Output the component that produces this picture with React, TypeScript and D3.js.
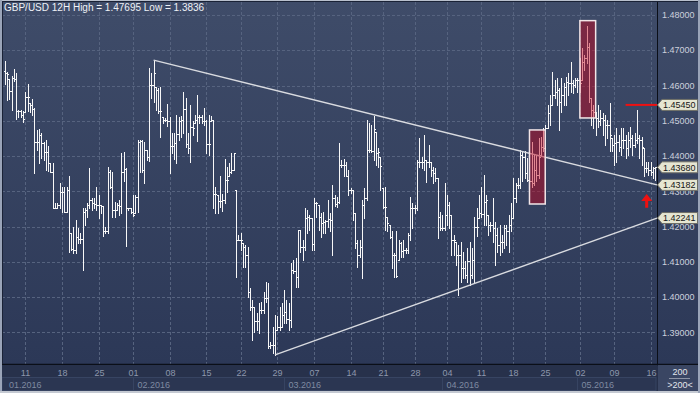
import React from "react";
import * as d3 from "d3";

// ---- data ----
const HIGH: number[] = [
  1.4670,1.4639,1.4619,1.4628,1.4647,1.4635,1.4531,1.4531,1.4529,1.4583,
  1.4604,1.4550,1.4562,1.4535,1.4474,1.4476,1.4465,1.4441,1.4446,1.4429,
  1.4379,1.4379,1.4266,1.4266,1.4323,1.4313,1.4313,1.4313,1.4342,1.4181,
  1.4200,1.4219,1.4195,1.4181,1.4252,1.4252,1.4266,1.4365,1.4280,1.4280,
  1.4311,1.4290,1.4261,1.4257,1.4200,1.4370,1.4361,1.4356,1.4271,1.4266,
  1.4276,1.4408,1.4412,1.4365,1.4252,1.4252,1.4290,1.4290,1.4446,1.4446,
  1.4446,1.4441,1.4417,1.4649,1.4635,1.4672,1.4597,1.4592,1.4597,1.4512,
  1.4507,1.4548,1.4512,1.4465,1.4465,1.4517,1.4512,1.4514,1.4583,1.4564,
  1.4465,1.4545,1.4498,1.4517,1.4573,1.4517,1.4517,1.4535,1.4502,1.4517,
  1.4514,1.4502,1.4313,1.4290,1.4342,
  1.4291,1.4393,1.4370,1.4379,1.4408,1.4410,1.4304,1.4176,1.4181,1.4153,
  1.4148,1.4143,1.4025,1.3992,1.3973,1.3954,1.3982,1.3987,1.4015,1.4044,
  1.4041,1.3872,1.3916,1.3949,1.3945,1.3973,1.3982,1.4020,1.3992,1.3982,
  1.4096,1.4105,1.4110,1.4190,1.4190,1.4162,1.4252,1.4247,1.4233,1.4223,
  1.4282,1.4271,1.4261,1.4238,1.4242,1.4219,1.4275,1.4238,1.4318,1.4290,
  1.4285,1.4438,1.4389,1.4393,1.4384,1.4360,1.4308,1.4304,1.4238,1.4162,
  1.4162,1.4275,1.4308,1.4502,1.4493,1.4488,1.4513,1.4469,1.4422,1.4398,
  1.4308,1.4313,1.4228,1.4205,1.4186,1.4124,1.4186,1.4162,1.4157,1.4162,
  1.4138,1.4181,1.4285,1.4266,1.4261,1.4389,1.4450,1.4398,1.4460,1.4389,
  1.4431,1.4384,1.4370,
  1.4365,1.4337,1.4242,1.4233,1.4323,1.4290,1.4271,1.4233,1.4176,1.4157,
  1.4148,1.4157,1.4129,1.4101,1.4138,1.4157,1.4138,1.4228,1.4252,1.4290,
  1.4313,1.4346,1.4290,1.4233,1.4214,1.4280,1.4214,1.4195,1.4205,1.4176,
  1.4205,1.4205,1.4233,1.4266,1.4337,1.4323,1.4337,1.4417,1.4413,1.4413,
  1.4394,1.4337,1.4441,1.4403,1.4403,1.4450,1.4455,1.4479,1.4488,1.4545,
  1.4573,1.4639,1.4616,1.4620,1.4592,1.4620,1.4606,1.4625,1.4635,1.4668,
  1.4616,1.4620,1.4620,1.4677,1.4706,1.4687,1.47695,1.4720,1.4564,1.4545,
  1.4526,1.4545,1.4531,1.4521,1.4517,1.4502,1.4550,1.4450,1.4460,1.4479,
  1.4460,1.4479,1.4479,1.4460,1.4469,1.4483,1.4460,1.4465,1.4531,1.4460,
  1.4455,1.4422,1.4384,1.4384,1.4384,1.4370,1.4370,
];

const LOW: number[] = [
  1.4603,1.4559,1.4561,1.4531,1.4613,1.4505,1.4510,1.4512,1.4496,1.4526,
  1.4527,1.4526,1.4515,1.4351,1.4417,1.4379,1.4394,1.4389,1.4361,1.4358,
  1.4354,1.4252,1.4252,1.4254,1.4252,1.4240,1.4240,1.4242,1.4127,1.4134,
  1.4124,1.4124,1.4153,1.4153,1.4077,1.4205,1.4228,1.4252,1.4247,1.4252,
  1.4247,1.4224,1.4238,1.4172,1.4181,1.4181,1.4309,1.4228,1.4228,1.4247,
  1.4233,1.4238,1.4328,1.4146,1.4247,1.4238,1.4230,1.4238,1.4242,1.4356,
  1.4354,1.4323,1.4389,1.4386,1.4564,1.4554,1.4531,1.4521,1.4453,1.4493,
  1.4498,1.4485,1.4351,1.4408,1.4391,1.4379,1.4446,1.4455,1.4465,1.4427,
  1.4410,1.4384,1.4460,1.4493,1.4444,1.4493,1.4493,1.4488,1.4408,1.4403,
  1.4498,1.4252,1.4238,1.4238,1.4256,
  1.4244,1.4266,1.4299,1.4342,1.4351,1.4360,1.4058,1.4162,1.4134,1.4086,
  1.4086,1.4001,1.3963,1.3878,1.3902,1.3907,1.3897,1.3954,1.3954,1.3987,
  1.3855,1.3855,1.3841,1.3836,1.3907,1.3907,1.3916,1.3926,1.3926,1.3907,
  1.3916,1.4067,1.4030,1.4030,1.4129,1.4105,1.4134,1.4181,1.4190,1.4134,
  1.4134,1.4228,1.4190,1.4171,1.4181,1.4181,1.4200,1.4186,1.4120,1.4257,
  1.4255,1.4266,1.4370,1.4342,1.4342,1.4290,1.4294,1.4219,1.4138,1.4086,
  1.4115,1.4053,1.4223,1.4275,1.4412,1.4412,1.4389,1.4375,1.4370,1.4304,
  1.4252,1.4190,1.4186,1.4167,1.4082,1.4058,1.4058,1.4105,1.4115,1.4115,
  1.4124,1.4124,1.4162,1.4195,1.4238,1.4247,1.4370,1.4365,1.4360,1.4327,
  1.4370,1.4342,1.4323,
  1.4328,1.4167,1.4190,1.4190,1.4190,1.4205,1.4195,1.4120,1.4120,1.4091,
  1.4006,1.4044,1.4053,1.4053,1.4044,1.4034,1.4053,1.4044,1.4172,1.4224,
  1.4228,1.4205,1.4205,1.4176,1.4186,1.4157,1.4091,1.4129,1.4120,1.4129,
  1.4138,1.4148,1.4129,1.4186,1.4224,1.4271,1.4309,1.4309,1.4328,1.4337,
  1.4328,1.4318,1.4313,1.4318,1.4328,1.4337,1.4403,1.4413,1.4422,1.4479,
  1.4488,1.4545,1.4564,1.4545,1.4474,1.4526,1.4545,1.4545,1.4573,1.4583,
  1.4578,1.4597,1.4583,1.4583,1.4616,1.4644,1.4663,1.4554,1.4488,1.4479,
  1.4460,1.4483,1.4488,1.4460,1.4431,1.4450,1.4413,1.4413,1.4375,1.4384,
  1.4413,1.4403,1.4422,1.4394,1.4403,1.4427,1.4403,1.4427,1.4436,1.4394,
  1.4375,1.4342,1.4356,1.4346,1.4346,1.4337,1.4332,
];

const CLOSE: number[] = [
  1.4635,1.4632,1.4585,1.4620,1.4619,1.4528,1.4528,1.4516,1.4505,1.4568,
  1.4568,1.4545,1.4533,1.4441,1.4439,1.4460,1.4436,1.4411,1.4411,1.4379,
  1.4356,1.4252,1.4254,1.4261,1.4299,1.4299,1.4242,1.4304,1.4181,1.4137,
  1.4134,1.4169,1.4165,1.4165,1.4240,1.4247,1.4261,1.4276,1.4266,1.4263,
  1.4260,1.4262,1.4257,1.4186,1.4186,1.4356,1.4311,1.4247,1.4247,1.4261,
  1.4259,1.4356,1.4363,1.4252,1.4252,1.4242,1.4233,1.4285,1.4441,1.4444,
  1.4359,1.4417,1.4396,1.4602,1.4602,1.4635,1.4587,1.4529,1.4529,1.4502,
  1.4502,1.4498,1.4429,1.4429,1.4436,1.4462,1.4498,1.4502,1.4533,1.4433,
  1.4422,1.4481,1.4479,1.4502,1.4510,1.4512,1.4498,1.4498,1.4434,1.4434,
  1.4502,1.4292,1.4293,1.4273,1.4273,
  1.4275,1.4332,1.4332,1.4356,1.4360,1.4408,1.4162,1.4162,1.4162,1.4143,
  1.4120,1.4015,1.3973,1.3973,1.3932,1.3932,1.3963,1.3962,1.3997,1.3997,
  1.3860,1.3864,1.3864,1.3907,1.3916,1.3916,1.3949,1.3959,1.3937,1.3935,
  1.4077,1.4075,1.4058,1.4190,1.4143,1.4143,1.4223,1.4228,1.4223,1.4151,
  1.4266,1.4266,1.4228,1.4209,1.4214,1.4217,1.4221,1.4219,1.4280,1.4264,
  1.4271,1.4375,1.4375,1.4375,1.4342,1.4304,1.4304,1.4238,1.4153,1.4120,
  1.4143,1.4261,1.4280,1.4417,1.4417,1.4415,1.4477,1.4408,1.4411,1.4373,
  1.4255,1.4255,1.4209,1.4171,1.4120,1.4120,1.4060,1.4153,1.4132,1.4134,
  1.4134,1.4176,1.4252,1.4252,1.4252,1.4384,1.4384,1.4384,1.4389,1.4384,
  1.4384,1.4360,1.4351,
  1.4337,1.4228,1.4195,1.4195,1.4233,1.4261,1.4233,1.4162,1.4162,1.4120,
  1.4120,1.4082,1.4082,1.4063,1.4101,1.4063,1.4105,1.4200,1.4200,1.4238,
  1.4235,1.4271,1.4276,1.4205,1.4205,1.4195,1.4176,1.4148,1.4157,1.4157,
  1.4195,1.4186,1.4205,1.4224,1.4280,1.4318,1.4318,1.4403,1.4398,1.4351,
  1.4332,1.4328,1.4323,1.4361,1.4346,1.4398,1.4427,1.4422,1.4479,1.4521,
  1.4545,1.4573,1.4583,1.4587,1.4554,1.4573,1.4597,1.4611,1.4606,1.4606,
  1.4602,1.4616,1.4616,1.4606,1.4668,1.4677,1.4710,1.4564,1.4531,1.4526,
  1.4507,1.4498,1.4507,1.4502,1.4488,1.4488,1.4460,1.4431,1.4436,1.4441,
  1.4427,1.4446,1.4446,1.4422,1.4446,1.4450,1.4431,1.4446,1.4450,1.4446,
  1.4427,1.4365,1.4365,1.4361,1.4356,1.4365,1.4368,
];

const FIRST_OPEN = 1.4640;

const PRICE_TICKS: number[] = [1.39, 1.40, 1.41, 1.42, 1.43, 1.44, 1.45, 1.46, 1.47, 1.48];

const DAY_TICK_BARS: number[] = [9, 25, 41, 56, 72, 88, 103, 119, 135, 151, 165, 179, 193, 208, 222, 236, 251, 266, 282];
const DAY_TICK_LABELS: string[] = ["11", "18", "25", "01", "08", "15", "22", "29", "07", "14", "21", "28", "04", "11", "18", "25", "02", "09", "16"];

const MONTH_BARS: number[] = [-1, 56, 122, 191, 250];
const MONTH_LABELS: string[] = ["01.2016", "02.2016", "03.2016", "04.2016", "05.2016"];

// trend lines: start bar, start price, price at right edge
const TREND_START_BARS: number[] = [65, 118];
const TREND_START_PRICES: number[] = [1.4672, 1.3836];
const TREND_END_PRICES: number[] = [1.43182, 1.42241];

// highlight boxes
const BOX_FROM: number[] = [230, 252];
const BOX_TO: number[] = [235, 257];
const BOX_TOP: number[] = [1.4474, 1.4784];
const BOX_BOTTOM: number[] = [1.4264, 1.4508];

const RESIST_PRICE = 1.4545;
const RESIST_FROM_BAR = 271;
const ARROW_BAR = 280;
const ARROW_TOP = 1.4292;
const ARROW_BOTTOM = 1.4253;

const MARKER_PRICES: number[] = [1.4545, 1.4368, 1.43182, 1.42241];

const FONT = "'Liberation Sans', Arial, sans-serif";

export default function App() {
  const W = 700, H = 393;
  const PL = 2, PR = 657, PT = 2, PB = 364;
  const n = CLOSE.length;
  const x = d3.scaleLinear().domain([-0.5, n - 0.5]).range([3.5, 656.5]);
  const y = d3.scaleLinear().domain([1.39, 1.48]).range([332.34, 15]);
  const opens = CLOSE.map((c, i) => (i === 0 ? FIRST_OPEN : CLOSE[i - 1]));
  const fmt5 = d3.format(".5f");

  const hi = d3.max(HIGH) as number;
  const lo = d3.min(LOW) as number;
  const title = `GBP/USD 12H High = ${hi} Low = ${lo}`;

  const bars = CLOSE.map((c, i) => {
    const cx = Math.round(x(i));
    const yh = Math.round(y(HIGH[i]));
    const yl = Math.round(y(LOW[i]));
    const o = Math.min(HIGH[i], Math.max(LOW[i], opens[i]));
    const cc = Math.min(HIGH[i], Math.max(LOW[i], c));
    const yo = Math.round(y(o));
    const yc = Math.round(y(cc));
    return (
      <g key={i}>
        <rect x={cx} y={yh} width={1} height={Math.max(1, yl - yh + 1)} />
        <rect x={cx - 1} y={yo} width={1} height={1} />
        <rect x={cx + 1} y={yc} width={1} height={1} />
      </g>
    );
  });

  const stepX = x(1) - x(0);

  return (
    <svg
      width={W}
      height={H}
      style={{ position: "absolute", left: 0, top: 0, display: "block" }}
      fontFamily={FONT}
    >
      <defs>
        <linearGradient id="bg" x1="0" y1="0" x2="0" y2="1">
          <stop offset="0" stopColor="#3f4c69" />
          <stop offset="1" stopColor="#2c3857" />
        </linearGradient>
        <clipPath id="plotClip">
          <rect x={PL} y={PT} width={PR - PL} height={PB - PT} />
        </clipPath>
      </defs>

      {/* backgrounds */}
      <rect x={0} y={0} width={W} height={H} fill="#26304a" />
      <rect x={0} y={0} width={W} height={PB} fill="url(#bg)" />

      {/* grid */}
      <g stroke="#56637f" strokeWidth={1} strokeDasharray="3,2" shapeRendering="crispEdges">
        {PRICE_TICKS.map((p) => (
          <line key={p} x1={PL} x2={PR} y1={Math.round(y(p)) + 0.5} y2={Math.round(y(p)) + 0.5} />
        ))}
        {DAY_TICK_BARS.map((b, k) => (
          <line key={k} x1={Math.round(x(b)) + 0.5} x2={Math.round(x(b)) + 0.5} y1={PT} y2={PB} />
        ))}
      </g>

      {/* title */}
      <text x={4} y={11} fontSize={10} fill="#eef1f6">{title}</text>

      {/* bars */}
      <g clipPath="url(#plotClip)" fill="#f7f7f7" shapeRendering="crispEdges">
        {bars}
      </g>

      {/* trend lines */}
      <g stroke="#d9dbe0" strokeWidth={1.4}>
        {TREND_START_BARS.map((b, k) => (
          <line key={k} x1={x(b)} y1={y(TREND_START_PRICES[k])} x2={PR} y2={y(TREND_END_PRICES[k])} />
        ))}
      </g>

      {/* highlight boxes */}
      {BOX_FROM.map((b, k) => {
        const x0 = x(b) - stepX * 0.5 - 1;
        const x1 = x(BOX_TO[k]) + stepX * 0.5 + 1;
        const y0 = y(BOX_TOP[k]);
        const y1 = y(BOX_BOTTOM[k]);
        return (
          <rect
            key={k}
            x={x0}
            y={y0}
            width={x1 - x0}
            height={y1 - y0}
            fill="rgb(200,0,25)"
            fillOpacity={0.45}
            stroke="#f2e6e8"
            strokeWidth={1.5}
          />
        );
      })}

      {/* resistance line */}
      <line
        x1={x(RESIST_FROM_BAR)}
        x2={PR}
        y1={y(RESIST_PRICE)}
        y2={y(RESIST_PRICE)}
        stroke="#ee1111"
        strokeWidth={2}
      />

      {/* up arrow */}
      {(() => {
        const ax = x(ARROW_BAR) + 0.5;
        const yt = y(ARROW_TOP);
        const yb = y(ARROW_BOTTOM);
        const hh = (yb - yt) * 0.5;
        return (
          <path
            d={`M${ax},${yt} L${ax + 5.5},${yt + hh} L${ax + 1.5},${yt + hh} L${ax + 1.5},${yb} L${ax - 1.5},${yb} L${ax - 1.5},${yt + hh} L${ax - 5.5},${yt + hh} Z`}
            fill="#ee1111"
          />
        );
      })()}

      {/* frame lines */}
      <line x1={PR + 0.5} x2={PR + 0.5} y1={0} y2={PB} stroke="#0b0f18" strokeWidth={1} />
      <line x1={0} x2={W} y1={PB + 0.5} y2={PB + 0.5} stroke="#0b0f18" strokeWidth={1.5} />

      {/* price axis labels (those under a marker peek out below it, as in the source) */}
      <g fontSize={9} fill="#ccd1dc">
        {PRICE_TICKS.map((p) => (
          <text key={p} x={662} y={y(p) + 3.2}>{fmt5(p)}</text>
        ))}
      </g>

      {/* price markers */}
      {MARKER_PRICES.map((p, k) => {
        const yc = y(p);
        return (
          <g key={k}>
            <path
              d={`M${PR + 0.5},${yc} L${PR + 5},${yc - 5.5} L${W - 2.5},${yc - 5.5} L${W - 2.5},${yc + 5.5} L${PR + 5},${yc + 5.5} Z`}
              fill="#e6e6d2"
              stroke="#6e6e66"
              strokeWidth={1}
            />
            <text x={663} y={yc + 3.2} fontSize={9} fill="#151515">{fmt5(p)}</text>
          </g>
        );
      })}

      {/* bottom axis */}
      <rect x={0} y={PB + 1} width={PR} height={H - PB - 3} fill="#27314b" />
      {MONTH_BARS.map((b, k) => {
        const x0 = k === 0 ? PL : Math.round(x(b)) + 0.5;
        const x1 = k === MONTH_BARS.length - 1 ? PR - 1 : Math.round(x(MONTH_BARS[k + 1])) + 0.5;
        return (
          <g key={k}>
            <rect x={x0} y={377.5} width={x1 - x0} height={13} fill="#2b3652" stroke="#374462" strokeWidth={1} />
            <text x={x0 + (k === 0 ? 7 : 4)} y={387.5} fontSize={9} fill="#7f8aa1">{MONTH_LABELS[k]}</text>
          </g>
        );
      })}
      <g fontSize={9} fill="#8d97ac" textAnchor="middle">
        {DAY_TICK_BARS.map((b, k) => (
          <text key={k} x={Math.round(x(b)) + 0.5} y={376}>{DAY_TICK_LABELS[k]}</text>
        ))}
      </g>

      {/* corner box */}
      <rect x={PR + 1} y={PB + 1} width={W - PR - 3} height={H - PB - 3} fill="#3a4663" />
      <text x={680} y={375} fontSize={9} fill="#e2e5ec" textAnchor="middle">200</text>
      <line x1={669} x2={690} y1={378.5} y2={378.5} stroke="#8e95a6" strokeWidth={1} />
      <text x={680} y={388} fontSize={9} fill="#e2e5ec" textAnchor="middle">{">200<"}</text>

      {/* outer border */}
      <line x1={0} x2={W} y1={0.5} y2={0.5} stroke="#b9c0cd" strokeWidth={1} />
      <line x1={0} x2={W} y1={1.5} y2={1.5} stroke="#1a2236" strokeWidth={1} />
      <line x1={1} x2={1} y1={0} y2={H} stroke="#9aa4b8" strokeWidth={2} />
      <line x1={2.5} x2={2.5} y1={1} y2={PB} stroke="#1a2236" strokeWidth={1} />
      <line x1={0} x2={W} y1={H - 1} y2={H - 1} stroke="#c4c9d2" strokeWidth={2} />
      <line x1={W - 1} x2={W - 1} y1={0} y2={H} stroke="#9aa4b8" strokeWidth={2} />
    </svg>
  );
}
